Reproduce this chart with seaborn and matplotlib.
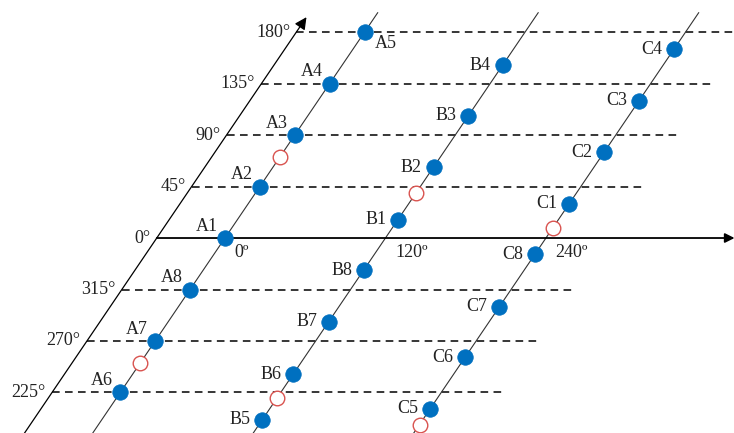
import pandas as pd
import numpy as np
import matplotlib
matplotlib.use('Agg')
import matplotlib.pyplot as plt
import seaborn as sns

#data
#phase of each line where it crosses the horizontal axis
groups = ['A', 'B', 'C']
phases = [0, 120, 240]
#signed angle (deg) of points 1..8 on each line
a_angles = [0, 45, 90, 135, 180, -135, -90, -45]
b_angles = [16, 62, 107, 151, -159, -119, -73, -28]
c_angles = [30, 75, 120, 165, -149, -104, -60, -14]
#open red circles on each line
a_open = [71, -109]
b_open = [39, -140]
c_open = [9, -163]
#levels on the slanted angle axis
level_ticks = [180, 135, 90, 45, 0, -45, -90, -135]
level_labels = ['180°', '135°', '90°', '45°', '0°', '315°', '270°', '225°']
phase_labels = ['0º', '120º', '240º']

#skew of the angle axis (horizontal shift per degree) and its origin
k = 0.58
axis0 = -51
dash_end = 287

sns.set_style('white')
plt.rcParams['font.family'] = ['Liberation Serif', 'DejaVu Serif']

rows = []
for g, p, angs in zip(groups, phases, [a_angles, b_angles, c_angles]):
    for i, a in enumerate(angs):
        rows.append({'name': f'{g}{i + 1}', 'group': g, 'phase': p, 'angle': a})
df = pd.DataFrame(rows)
df['x'] = df['phase'] + k * df['angle']

opens = []
for p, angs in zip(phases, [a_open, b_open, c_open]):
    for a in angs:
        opens.append({'phase': p, 'angle': a})
df_open = pd.DataFrame(opens)
df_open['x'] = df_open['phase'] + k * df_open['angle']

fig = plt.figure(figsize=(7.34, 4.33), dpi=100)
ax = fig.add_axes([0, 0, 1, 1])
ax.set_xlim(-168.2, 380.6)
ax.set_ylim(-170.4, 208.0)
ax.axis('off')

#slanted angle axis with arrow
ax.annotate('', xy=(axis0 + k * 193, 193), xytext=(axis0 + k * -180, -180),
            arrowprops=dict(arrowstyle='-|>', color='black', lw=0.9,
                            mutation_scale=18, shrinkA=0, shrinkB=0),
            annotation_clip=False)

#horizontal phase axis with arrow
ax.annotate('', xy=(381, 0), xytext=(axis0, 0),
            arrowprops=dict(arrowstyle='-|>', color='black', lw=1.3,
                            mutation_scale=14, shrinkA=0, shrinkB=0),
            annotation_clip=False)

#dashed angle levels
for t, lab in zip(level_ticks, level_labels):
    if t != 0:
        ax.plot([axis0 + k * t, dash_end + k * t], [t, t], color='black', lw=1.1,
                linestyle=(0, (5, 3.5)), zorder=1)
    ax.annotate(lab, (axis0 + k * t, t), xytext=(-4.5, 0), textcoords='offset points',
                ha='right', va='center', fontsize=13, color='#222222')

#one slanted line per phase
for p, lab in zip(phases, phase_labels):
    ax.plot([p + k * -185, p + k * 197], [-185, 197], color='#333333', lw=0.8, zorder=1)
    ax.annotate(lab, (p, 0), xytext=(7, -10.5), textcoords='offset points',
                ha='left', va='center', fontsize=13, color='#222222')

sns.scatterplot(data=df_open, x='x', y='angle', s=110, color='white',
                edgecolor='#d9534f', linewidth=1.0, ax=ax, zorder=3)
sns.scatterplot(data=df, x='x', y='angle', s=125, color='#0070c0',
                edgecolor='#0070c0', linewidth=0.5, ax=ax, zorder=4)

#point labels
for _, r in df.iterrows():
    if r['group'] == 'A':
        off = (15, -8.5) if r['name'] == 'A5' else (-13, 8.5)
    else:
        off = (-16, 0)
    ax.annotate(r['name'], (r['x'], r['angle']), xytext=off, textcoords='offset points',
                ha='center', va='center', fontsize=13, color='#222222')

plt.savefig('out.png', dpi=100)
